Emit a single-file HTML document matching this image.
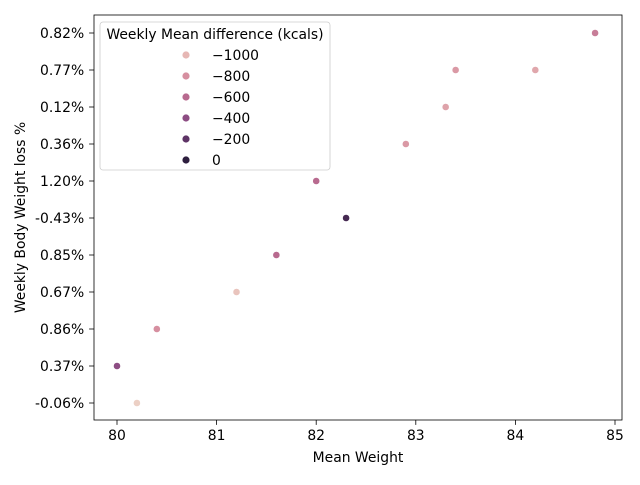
<!DOCTYPE html>
<html><head><meta charset="utf-8"><style>body{margin:0;background:#fff}svg{font-family:"DejaVu Sans","Liberation Sans",sans-serif}</style></head>
<body>
<svg id="chart" width="640" height="480"></svg>
<script>
const cats=["-0.06%","0.37%","0.86%","0.67%","0.85%","-0.43%","1.20%","0.36%","0.12%","0.77%","0.82%"];
const xVals=[80.2,80.0,80.4,81.2,81.6,82.3,82.0,82.9,83.3,83.4,84.2,84.8];
const yVals=["-0.06%","0.37%","0.86%","0.67%","0.85%","-0.43%","1.20%","0.36%","0.12%","0.77%","0.77%","0.82%"];
const hueVals=[-1100,-400,-800,-1050,-600,-100,-600,-850,-900,-850,-920,-700];
const xTicks=[80,81,82,83,84,85];
const legendVals=[-1000,-800,-600,-400,-200,0];
const legendLabels=["\u22121000","\u2212800","\u2212600","\u2212400","\u2212200","0"];
const NS="http://www.w3.org/2000/svg",svg=document.getElementById('chart');
const L=94,R=622,T=15,B=420,FS=13.9;
const xs=v=>117+(v-80)*99.6;
const ys=c=>403-cats.indexOf(c)*37;
const stops=[[-1100,[236,208,197]],[-1000,[230,183,180]],[-800,[214,143,160]],[-600,[184,106,143]],[-400,[141,77,131]],[-200,[94,52,102]],[0,[45,30,62]]];
function col(v){v=Math.max(-1100,Math.min(0,v));for(let i=0;i<stops.length-1;i++){const[a,ca]=stops[i],[b,cb]=stops[i+1];if(v<=b){const t=(v-a)/(b-a);return'rgb('+ca.map((c,k)=>Math.round(c+(cb[k]-c)*t)).join(',')+')';}}return'rgb(45,30,62)';}
function el(t,a,p){const e=document.createElementNS(NS,t);for(const k in a)e.setAttribute(k,a[k]);(p||svg).appendChild(e);return e;}
const frame=el('rect',{x:L,y:T,width:R-L,height:B-T,fill:'none',stroke:'#000','stroke-width':0.8});


xTicks.forEach(v=>{const x=xs(v);el('line',{x1:x,x2:x,y1:B,y2:B+4.9,stroke:'#000','stroke-width':0.8});
const t=el('text',{x:x,y:B+20,'text-anchor':'middle','font-size':FS});t.textContent=v;

});
cats.forEach(c=>{const y=ys(c);el('line',{x1:L-4.9,x2:L,y1:y,y2:y,stroke:'#000','stroke-width':0.8});
const t=el('text',{x:L-9.8,y:y+5,'text-anchor':'end','font-size':FS});t.textContent=c;

});
const xt=el('text',{x:(L+R)/2,y:462,'text-anchor':'middle','font-size':FS});xt.textContent='Mean Weight';


const yt=el('text',{x:0,y:0,'text-anchor':'middle','font-size':FS,transform:'translate(25,'+((T+B)/2)+') rotate(-90)'});yt.textContent='Weekly Body Weight loss %';


xVals.forEach((v,i)=>{const p=el('circle',{cx:xs(v),cy:ys(yVals[i]),r:3.6,fill:col(hueVals[i]),stroke:'#fff','stroke-width':0.6});

});
const lg=el('g',{});


el('rect',{x:100,y:22,width:230,height:148,rx:3,fill:'#fff','fill-opacity':0.8,stroke:'#ccc','stroke-width':0.8},lg);
const lt=el('text',{x:215,y:39,'text-anchor':'middle','font-size':FS},lg);lt.textContent='Weekly Mean difference (kcals)';
legendVals.forEach((v,i)=>{const y=55+i*21;
const m=el('circle',{cx:186,cy:y,r:3.6,fill:col(v)},lg);


const t=el('text',{x:212,y:y+5,'font-size':FS},lg);t.textContent=legendLabels[i];

});
</script>
</body></html>
